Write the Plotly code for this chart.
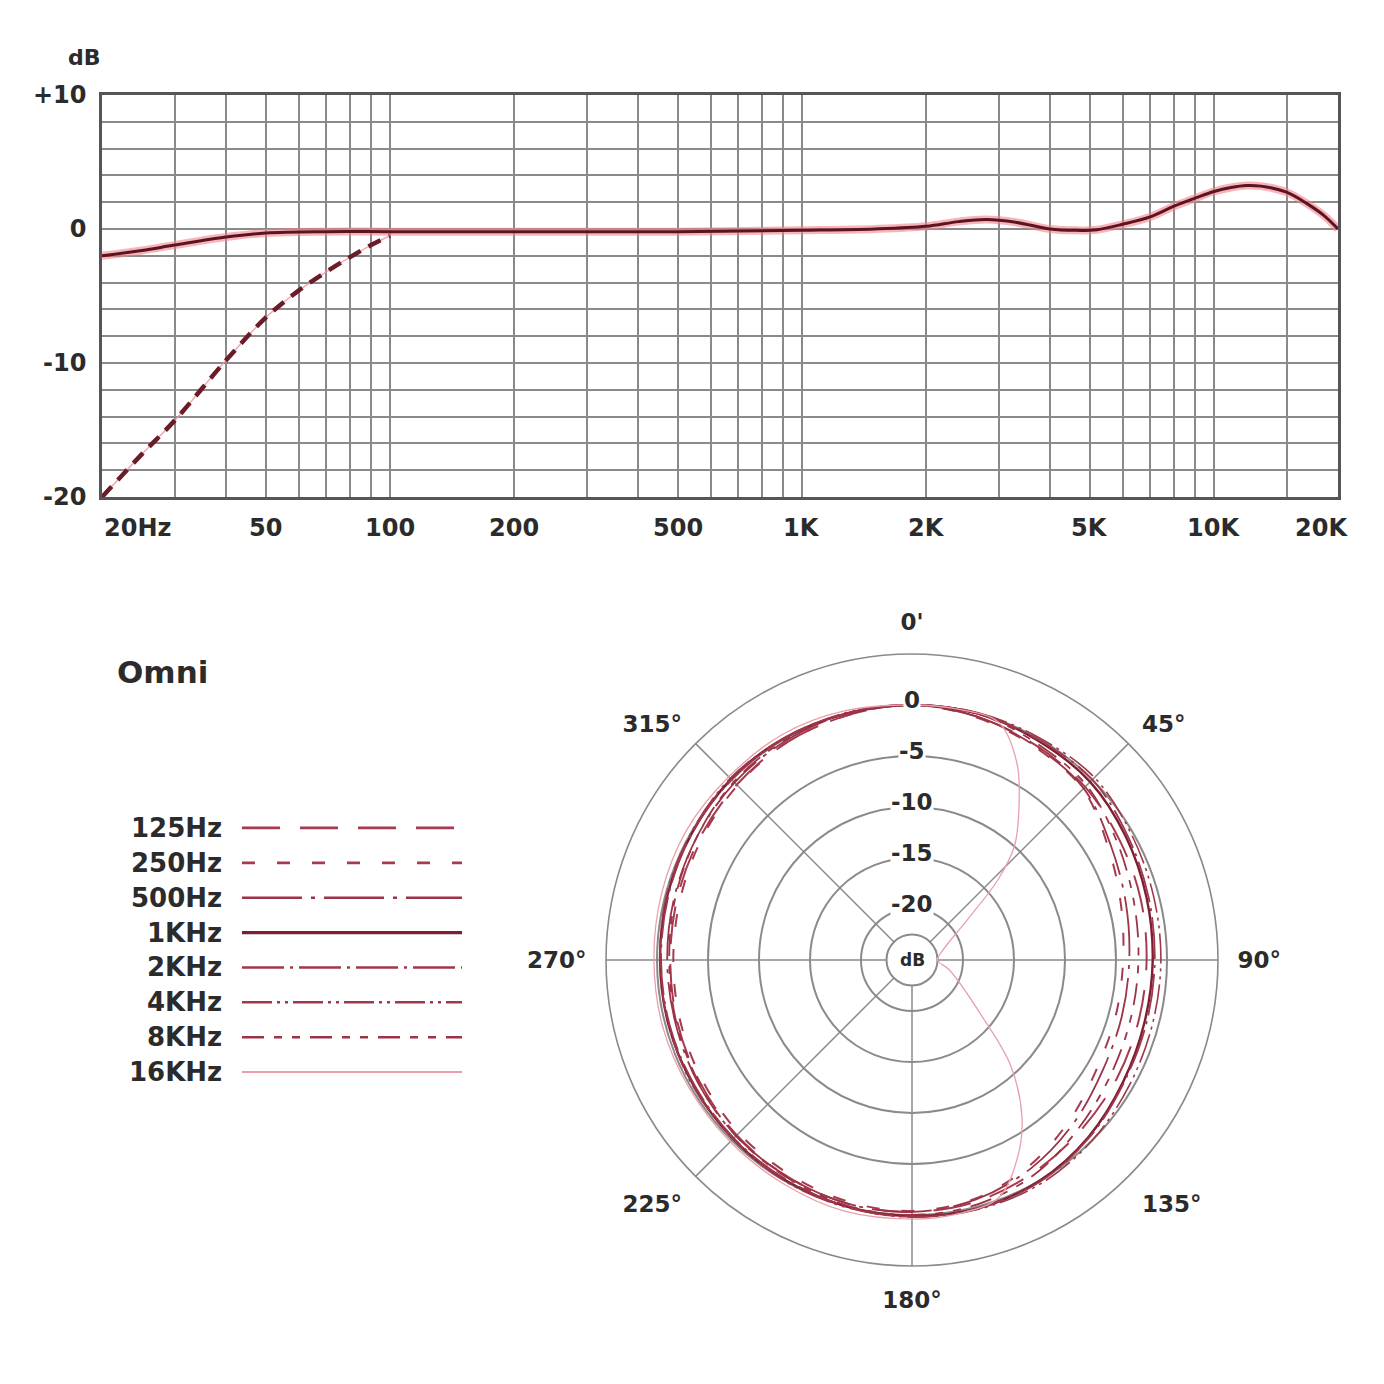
import numpy as np
import plotly.graph_objects as go

W = H = 1384

# ---------------- frequency response (top chart) ----------------
FREQ = [20, 25, 30, 40, 50, 70, 100, 200, 500, 1000, 1500, 2000, 2400, 2800, 3300,
        4000, 4600, 5200, 6000, 7000, 8000, 9000, 10000, 11000, 12000, 13000, 15000,
        17000, 18500, 20000]
RESP = [-2.0, -1.6, -1.2, -0.6, -0.3, -0.2, -0.2, -0.2, -0.2, -0.1, 0.0, 0.2, 0.55, 0.7, 0.5,
        0.0, -0.1, -0.05, 0.35, 0.9, 1.7, 2.3, 2.8, 3.1, 3.25, 3.2, 2.75,
        1.8, 1.0, 0.0]
LOWCUT_FREQ = [20, 25, 30, 40, 50, 60, 70, 80, 90, 100]
LOWCUT_RESP = [-20, -16.8, -14.3, -9.8, -6.6, -4.6, -3.2, -2.1, -1.2, -0.5]

GRID_FREQ = [20, 30, 40, 50, 60, 70, 80, 90, 100, 200, 300, 400, 500, 600, 700, 800, 900,
             1000, 2000, 3000, 4000, 5000, 6000, 7000, 8000, 9000, 10000, 15000, 20000]
X_LABEL_FREQ = [20, 50, 100, 200, 500, 1000, 2000, 5000, 10000, 20000]
X_LABEL_TEXT = ["20Hz", "50", "100", "200", "500", "1K", "2K", "5K", "10K", "20K"]
Y_GRID = list(range(-20, 11, 2))
Y_LABEL_VALS = [-20, -10, 0, 10]
Y_LABEL_TEXT = ["-20", "-10", "0", "+10"]

# ---------------- polar pattern (bottom chart) ----------------
THETA = [0, 15, 30, 45, 60, 75, 90, 105, 120, 135, 150, 165, 180, 195, 210, 225, 240,
         255, 270, 285, 300, 315, 330, 345, 360]
P125 = [0, -0.3, -0.7, -1.0, -1.5, -1.8, -2.0, -2.0, -1.8, -1.5, -1.0, -0.5, -0.3, -0.3,
        -0.5, -0.7, -1.0, -1.2, -1.3, -1.2, -1.0, -0.7, -0.4, -0.2, 0]
P250 = [0, -0.4, -0.9, -1.3, -2.8, -3.8, -4.3, -4.3, -4.0, -3.0, -1.8, -0.8, -0.4, -0.5,
        -0.8, -1.0, -1.3, -1.5, -1.6, -1.5, -1.2, -0.8, -0.4, -0.2, 0]
P500 = [0, -0.3, -0.8, -1.2, -2.5, -3.3, -3.7, -3.7, -3.4, -2.5, -1.5, -0.7, -0.3, -0.3,
        -0.5, -0.6, -0.8, -1.0, -1.0, -0.9, -0.7, -0.4, -0.2, 0, 0]
P1K = [0, 0, -0.2, -0.3, -0.8, -1.2, -1.4, -1.4, -1.1, -0.5, 0, 0.2, 0.1, 0, -0.1, -0.2,
       -0.3, -0.3, -0.3, -0.2, -0.1, 0.1, 0.1, 0, 0]
P2K = [0, 0, -0.1, 0, -0.6, -1.0, -1.2, -1.2, -1.0, -0.4, 0.1, 0.2, 0.2, 0, -0.2, -0.3,
       -0.4, -0.4, -0.4, -0.3, -0.1, 0, 0.1, 0, 0]
P4K = [0, 0.1, 0.1, 0.3, -0.2, -0.5, -0.6, -0.6, -0.4, 0, 0.3, 0.3, 0.2, 0.1, 0, -0.2,
       -0.2, -0.3, -0.3, -0.1, 0, 0.2, 0.1, 0.1, 0]
P8K = [0, 0, -0.5, -0.8, -1.8, -2.5, -2.8, -2.8, -2.5, -1.8, -0.8, -0.2, 0, -0.1, -0.4,
       -0.6, -0.9, -1.1, -1.2, -1.0, -0.7, -0.3, -0.1, 0, 0]
THETA16 = [0, 10, 20, 28, 36, 42, 47, 54, 72, 90, 105, 129, 137, 145, 152, 160, 170, 180,
           195, 210, 225, 240, 255, 270, 285, 300, 315, 330, 345, 360]
P16K = [0, 0, -0.2, -3.1, -7.2, -10, -13.5, -18.3, -21.8, -22.5, -21.2, -16.1, -10.8, -6.2,
        -3.0, -0.2, 0.3, 0.4, 0.5, 0.3, 0.2, 0.2, 0.3, 0.3, 0.4, 0.5, 0.4, 0.5, 0.3, 0]

SERIES_NAMES = ["125Hz", "250Hz", "500Hz", "1KHz", "2KHz", "4KHz", "8KHz", "16KHz"]
SERIES_THETA = [THETA, THETA, THETA, THETA, THETA, THETA, THETA, THETA16]
SERIES_R = [P125, P250, P500, P1K, P2K, P4K, P8K, P16K]
SERIES_DASH = ["38px,20px", "13px,22px", "60px,9px,4px,9px", "solid",
               "42px,6px,3px,6px", "30px,5px,3px,5px,3px,5px",
               "22px,10px,8px,10px,8px,10px", "solid"]
SERIES_COLOR = ["#a63a4e", "#a63a4e", "#9c3346", "#7d1f30", "#a0384c", "#a0384c",
                "#9c3346", "#e9a0ac"]
SERIES_WIDTH = [2.0, 2.0, 1.8, 2.4, 1.8, 1.6, 1.8, 1.3]

RING_DB = [-22.5, -20, -15, -10, -5, 0]
RING_LABEL_DB = [0, -5, -10, -15, -20]
RING_LABEL_TEXT = ["0", "-5", "-10", "-15", "-20"]
R_RANGE = [-25, 5]
SPOKE_ANGLES = [45, 90, 180, 225, 270, 315]
ANG_TICKS = [0, 45, 90, 135, 180, 225, 270, 315]
ANG_TEXT = ["0'", "45°", "90°", "135°", "180°", "225°", "270°", "315°"]

FONT = "DejaVu Sans"
TXT = "#2b2b2b"
GRID = "#8a8a8a"

fig = go.Figure()

# ---- top chart traces ----
fig.add_trace(go.Scatter(x=LOWCUT_FREQ, y=LOWCUT_RESP, mode="lines", line_shape="spline",
                         line=dict(color="rgba(240,150,160,0.8)", width=1.5),
                         xaxis="x", yaxis="y", showlegend=False, hoverinfo="skip"))
fig.add_trace(go.Scatter(x=LOWCUT_FREQ, y=LOWCUT_RESP, mode="lines", line_shape="spline",
                         line=dict(color="#6a1d28", width=4.5, dash="14px,9px"),
                         xaxis="x", yaxis="y", showlegend=False))
fig.add_trace(go.Scatter(x=FREQ, y=RESP, mode="lines", line_shape="spline",
                         line=dict(color="rgba(242,130,142,0.6)", width=8),
                         xaxis="x", yaxis="y", showlegend=False, hoverinfo="skip"))
fig.add_trace(go.Scatter(x=FREQ, y=RESP, mode="lines", line_shape="spline",
                         line=dict(color="#5c1520", width=3),
                         xaxis="x", yaxis="y", showlegend=False))

# ---- polar spokes (grid) ----
sp_r, sp_t = [], []
for a in SPOKE_ANGLES:
    sp_r += [RING_DB[0], R_RANGE[1], None]
    sp_t += [a, a, None]
fig.add_trace(go.Scatterpolar(r=sp_r, theta=sp_t, mode="lines",
                              line=dict(color=GRID, width=1.5), showlegend=False,
                              hoverinfo="skip", connectgaps=False))

# ---- polar pattern traces ----
for name, th, rr, dash, col, wd in zip(SERIES_NAMES, SERIES_THETA, SERIES_R, SERIES_DASH,
                                       SERIES_COLOR, SERIES_WIDTH):
    fig.add_trace(go.Scatterpolar(r=rr, theta=th, mode="lines", name=name,
                                  line=dict(color=col, width=wd, dash=dash, shape="spline"),
                                  showlegend=False))

# ---- legend samples (own hidden axes) ----
for i, (name, dash, col, wd) in enumerate(zip(SERIES_NAMES, SERIES_DASH, SERIES_COLOR,
                                              SERIES_WIDTH)):
    fig.add_trace(go.Scatter(x=[0, 1], y=[i, i], mode="lines",
                             line=dict(color=col, width=wd + 0.8, dash=dash),
                             xaxis="x2", yaxis="y2", showlegend=False, hoverinfo="skip"))

# ---------------- layout ----------------
x0, x1 = 102 / W, 1338 / W
y0, y1 = 1 - 497 / H, 1 - 95 / H
pd_x = [606 / W, 1218 / W]
pd_y = [1 - 1266 / H, 1 - 654 / H]

def bold(size):
    return dict(family=FONT, size=size, color=TXT, weight=700)

annotations = []
annotations.append(dict(text="dB", x=84 / W, y=1 - 58 / H, xref="paper", yref="paper",
                        xanchor="center", yanchor="middle", showarrow=False, font=bold(22)))
for f, t in zip(X_LABEL_FREQ, X_LABEL_TEXT):
    anchor, shift = "center", 0
    if f == X_LABEL_FREQ[0]:
        anchor = "left"
    elif f == X_LABEL_FREQ[-1]:
        anchor, shift = "right", 12
    annotations.append(dict(text=t, x=np.log10(f), y=1 - 528 / H, xref="x", yref="paper",
                            xanchor=anchor, xshift=shift, yanchor="middle",
                            showarrow=False, font=bold(24)))

annotations.append(dict(text="Omni", x=115 / W, y=1 - 672 / H, xref="paper", yref="paper",
                        xanchor="left", yanchor="middle", showarrow=False,
                        font=bold(31)))
for i, name in enumerate(SERIES_NAMES):
    annotations.append(dict(text=name, x=224 / W, y=i, xref="paper", yref="y2",
                            xanchor="right", yanchor="middle", showarrow=False,
                            font=bold(26)))

# ring labels + centre label, placed from the polar domain geometry
cx = (pd_x[0] + pd_x[1]) / 2 * W
cy = (1 - (pd_y[0] + pd_y[1]) / 2) * H
R = (pd_x[1] - pd_x[0]) * W / 2
for db, t in zip(RING_LABEL_DB, RING_LABEL_TEXT):
    rp = (db - R_RANGE[0]) / (R_RANGE[1] - R_RANGE[0]) * R
    annotations.append(dict(text=t, x=cx / W, y=1 - (cy - rp) / H, xref="paper",
                            yref="paper", xanchor="center", yanchor="middle", yshift=5,
                            showarrow=False, bgcolor="white", borderpad=0, font=bold(23)))
annotations.append(dict(text="dB", x=cx / W, y=1 - cy / H, xref="paper", yref="paper",
                        xanchor="center", yanchor="middle", showarrow=False,
                        bgcolor="white", borderpad=0, font=bold(17)))

fig.update_layout(
    width=W, height=H, margin=dict(l=0, r=0, t=0, b=0, autoexpand=False),
    paper_bgcolor="white", plot_bgcolor="white", showlegend=False,
    xaxis=dict(type="log", range=[np.log10(20), np.log10(20000)], domain=[x0, x1],
               anchor="y", tickvals=GRID_FREQ, showticklabels=False, ticks="",
               automargin=False,
               showgrid=True, gridcolor=GRID, gridwidth=1.8, zeroline=False,
               showline=True, linecolor="#555555", linewidth=2.5, mirror=True),
    yaxis=dict(range=[-20, 10], domain=[y0, y1], anchor="x", tickvals=Y_GRID,
               ticktext=[Y_LABEL_TEXT[Y_LABEL_VALS.index(v)] if v in Y_LABEL_VALS else ""
                         for v in Y_GRID],
               ticks="", ticklabelstandoff=8, tickfont=bold(24), automargin=False,
               showgrid=True, gridcolor=GRID, gridwidth=1.8, zeroline=False,
               showline=True, linecolor="#555555", linewidth=2.5, mirror=True),
    xaxis2=dict(domain=[242 / W, 462 / W], range=[0, 1], anchor="y2", visible=False),
    yaxis2=dict(domain=[1 - 1090 / H, 1 - 810 / H], range=[7.514, -0.514], anchor="x2",
                visible=False),
    polar=dict(
        domain=dict(x=pd_x, y=pd_y), bgcolor="white",
        angularaxis=dict(rotation=90, direction="clockwise", tickmode="array",
                         tickvals=ANG_TICKS, ticktext=ANG_TEXT, showgrid=False,
                         showline=True, linecolor=GRID, linewidth=1.6,
                         ticks="outside", ticklen=14, tickcolor="rgba(0,0,0,0)",
                         tickfont=bold(23)),
        radialaxis=dict(range=R_RANGE, tickvals=RING_DB, showticklabels=False, ticks="",
                        showline=False, showgrid=True, gridcolor=GRID, gridwidth=1.5),
    ),
    annotations=annotations,
)

fig.write_html("out.html")
